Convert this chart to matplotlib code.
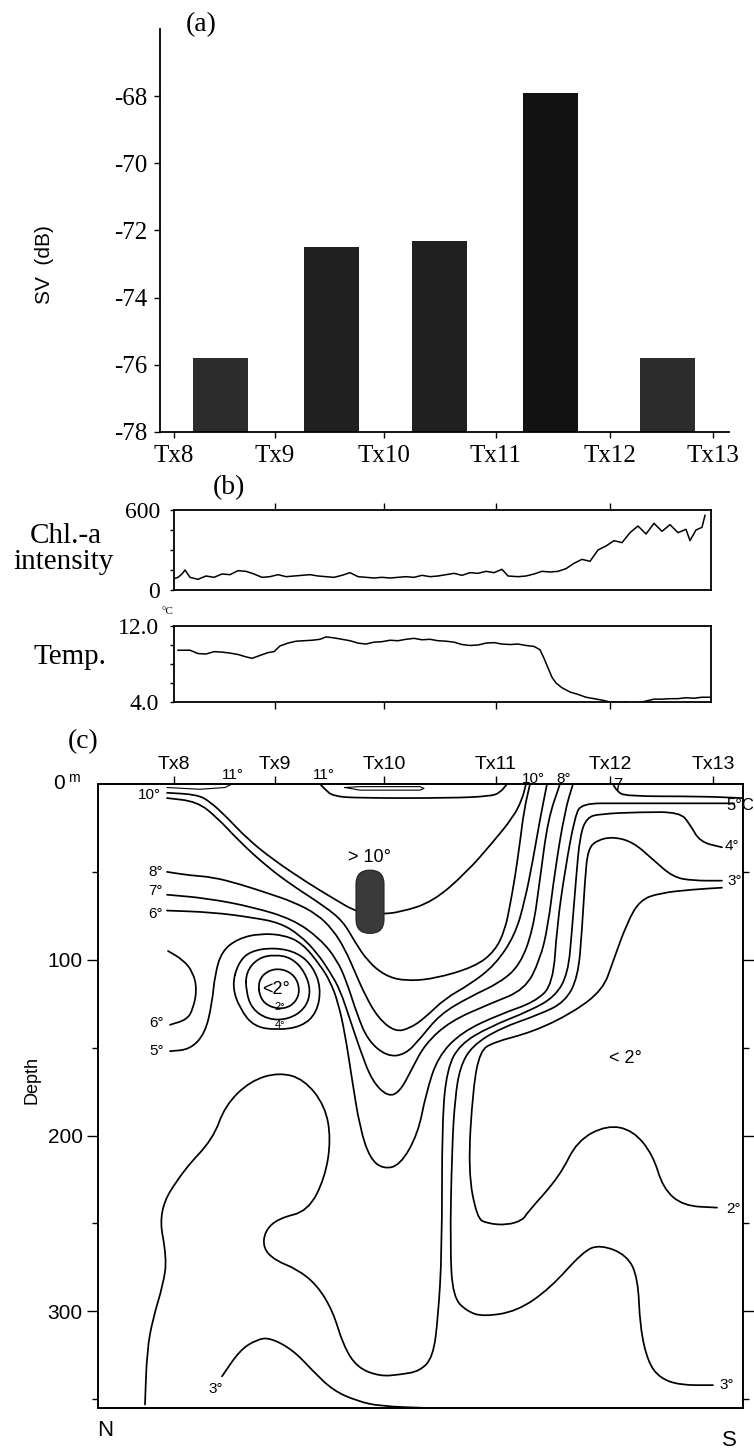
import matplotlib
matplotlib.use('Agg')
import matplotlib.pyplot as plt
from matplotlib.patches import FancyBboxPatch, PathPatch
from matplotlib.path import Path

SERIF = ['Liberation Serif', 'DejaVu Serif']
SANS = ['Liberation Sans', 'DejaVu Sans']
W, H = 754, 1450

# ---------------- shared ----------------
stations = ['Tx8', 'Tx9', 'Tx10', 'Tx11', 'Tx12', 'Tx13']
station_km = [0, 101, 210, 322, 436, 539]

# ---------------- (a) SV bars ----------------
bar_km = [46.5, 157.5, 265.5, 376, 493.5]
bar_sv = [-75.8, -72.5, -72.3, -67.9, -75.8]
sv_ticks = [-78, -76, -74, -72, -70, -68]

# ---------------- (b) along-track records ----------------
chl_km = [0, 4, 8, 11, 16, 24, 32, 40, 48, 56, 64, 72, 80, 88, 96, 104, 112, 120, 128,
          136, 144, 152, 160, 168, 176, 184, 192, 200, 208, 216, 224, 232, 240, 248, 256,
          264, 272, 280, 288, 296, 304, 312, 320, 328, 334, 344, 352, 360, 368, 376, 384,
          392, 400, 408, 416, 424, 432, 440, 448, 456, 464, 472, 480, 488, 496, 504, 512,
          516, 522, 528, 531]
chl_val = [85, 95, 120, 150, 95, 80, 105, 95, 120, 115, 145, 140, 120, 95, 100, 115, 100,
           105, 110, 115, 105, 100, 95, 110, 130, 100, 95, 90, 95, 90, 95, 100, 95, 110,
           100, 105, 115, 125, 110, 130, 125, 140, 130, 155, 105, 100, 105, 120, 140, 135,
           140, 160, 200, 230, 215, 300, 330, 370, 355, 430, 480, 420, 500, 440, 490, 430,
           455, 370, 450, 470, 560]
temp_km = [4, 16, 24, 32, 40, 48, 56, 64, 72, 78, 86, 94, 100, 106, 114, 122, 130, 138,
           146, 152, 160, 168, 176, 184, 192, 200, 208, 216, 224, 232, 240, 248, 256, 264,
           272, 280, 288, 296, 304, 312, 320, 328, 336, 344, 352, 360, 366, 370, 374, 378,
           382, 388, 396, 404, 412, 420, 428, 436, 444, 452, 460, 466, 472, 480, 488, 496,
           504, 512, 520, 528, 536]
temp_val = [9.45, 9.45, 9.1, 9.05, 9.3, 9.25, 9.15, 9.0, 8.75, 8.6, 8.9, 9.2, 9.3, 9.9,
            10.2, 10.4, 10.45, 10.5, 10.6, 10.85, 10.75, 10.6, 10.45, 10.2, 10.1, 10.3,
            10.35, 10.5, 10.45, 10.6, 10.7, 10.55, 10.6, 10.45, 10.4, 10.3, 10.05, 9.95,
            10.0, 10.2, 10.25, 10.1, 10.05, 10.1, 9.95, 9.85, 9.5, 8.6, 7.6, 6.6, 6.0, 5.5,
            5.05, 4.8, 4.5, 4.35, 4.2, 4.0, 3.9, 4.0, 3.85, 3.95, 4.1, 4.3, 4.3, 4.35, 4.35,
            4.45, 4.4, 4.5, 4.5]

# ---------------- (c) isotherms (distance, depth m) ----------------
iso10_km = [-7, 23, 36, 53, 73, 99, 133, 159, 183, 206, 226, 259, 293, 319, 339, 348, 352]
iso10_m = [5, 6, 10, 19, 31, 43, 56, 65, 73, 74, 73, 67, 50, 33, 19, 9, 0]

iso9_km = [-7, 23, 43, 66, 93, 119, 149, 169, 181, 194, 211, 230, 259, 301, 321, 331, 336,
           341, 346, 350, 356]
iso9_m = [8, 10, 19, 33, 47, 58, 69, 78, 90, 101, 109, 112, 111, 104, 95, 83, 69, 53, 33,
          15, 0]

iso8_km = [-7, 16, 39, 66, 93, 119, 143, 159, 171, 181, 191, 204, 221, 236, 251, 271, 296,
           321, 341, 351, 359, 366, 373]
iso8_m = [50, 52, 53, 57, 62, 67, 74, 83, 94, 107, 120, 133, 141, 139, 133, 122, 114, 103,
          86, 66, 43, 20, 0]

iso7_km = [-7, 33, 79, 119, 146, 163, 173, 183, 194, 213, 231, 246, 266, 296, 326, 346,
           359, 366, 374, 386]
iso7_m = [63, 65, 70, 77, 88, 100, 113, 131, 146, 155, 154, 145, 131, 121, 113, 103, 83,
          54, 20, 0]

iso6_km = [-7, 39, 79, 106, 126, 143, 156, 166, 176, 186, 198, 214, 226, 238, 251, 276,
           316, 351, 366, 374, 381, 391, 399]
iso6_m = [72, 73, 76, 79, 86, 96, 107, 117, 134, 151, 169, 178, 175, 162, 148, 135, 125,
          117, 100, 81, 49, 15, 0]

iso5_km = [-4, 16, 31, 38, 41, 48, 64, 86, 111, 129, 146, 156, 164, 171, 178, 186, 196,
           209, 226, 244, 252, 264, 288, 326, 361, 379, 383, 391, 401, 408, 446, 506, 560]
iso5_m = [152, 151, 142, 125, 108, 95, 88, 85, 86, 91, 103, 112, 124, 142, 168, 196, 213,
          219, 217, 199, 176, 155, 141, 131, 124, 114, 81, 49, 18, 11, 11, 11, 11]

iso6b_km = [-6, 9, 19, 23, 19, 13, -4]
iso6b_m = [95, 100, 107, 117, 128, 134, 137]

iso4_km = [-29, -27, -21, -11, -7, -16, 9, 39, 51, 76, 105, 130, 151, 157, 151, 134, 105,
           91, 89, 101, 123, 143, 159, 169, 183, 206, 226, 246, 259, 264, 268, 268, 273,
           286, 316, 356, 381, 394, 398, 402, 406, 413, 426, 466, 506, 516, 526, 548]
iso4_m = [353, 322, 304, 285, 270, 243, 220, 202, 183, 169, 164, 168, 183, 202, 224, 243,
          247, 254, 264, 271, 276, 285, 300, 319, 332, 337, 336, 334, 326, 304, 266, 192,
          162, 148, 138, 129, 121, 108, 83, 54, 29, 19, 17, 16, 16, 23, 33, 36]

iso3_km = [539, 506, 486, 474, 466, 464, 453, 426, 409, 376, 343, 309, 293, 279, 276, 278,
           281, 286, 298, 326, 366, 391, 404, 408, 411, 414, 423, 439, 459, 479, 499, 519,
           548]
iso3_m = [342, 342, 338, 329, 309, 281, 268, 262, 266, 287, 300, 303, 300, 292, 264, 207,
          179, 161, 149, 139, 131, 124, 110, 83, 54, 37, 32, 30, 33, 43, 53, 55, 55]

iso2_km = [548, 519, 486, 466, 453, 439, 429, 399, 359, 319, 306, 299, 294, 303, 313, 333,
           349, 353, 386, 403, 433, 459, 479, 489, 509, 543]
iso2_m = [59, 60, 62, 66, 79, 101, 117, 130, 141, 147, 152, 173, 220, 247, 250, 251, 248,
          244, 223, 203, 194, 197, 211, 230, 240, 241]

iso3b_km = [48, 66, 83, 96, 119, 139, 159, 183, 206, 254]
iso3b_m = [337, 322, 316, 315, 322, 334, 345, 351, 354, 355]

ring1_km = [64, 76, 101, 124, 139, 147, 143, 128, 103, 80, 66, 58, 64]
ring1_m = [102, 95, 93, 96, 104, 116, 130, 138, 140, 138, 128, 115, 102]
ring2_km = [72, 84, 101, 118, 131, 137, 131, 114, 94, 78, 72, 72]
ring2_m = [107, 99, 97, 99, 107, 118, 128, 134, 134, 128, 118, 107]
ring3_km = [84, 94, 108, 121, 126, 122, 111, 96, 86, 84]
ring3_m = [112, 106, 105, 109, 117, 124, 128, 127, 122, 112]

iso11a_km = [-7, 26, 51, 58]
iso11a_m = [2, 3, 2, 0]
iso11b_km = [146, 151, 159, 186, 276, 316, 326, 333]
iso11b_m = [0, 3, 7, 8, 8, 7, 5, 0]
lens_km = [171, 186, 246, 250, 246, 186, 171]
lens_m = [2, 3.5, 3.5, 2.5, 1.5, 1.5, 2]
iso7b_km = [439, 443, 451, 526, 568]
iso7b_m = [0, 4, 7, 7, 8]


def smooth_line(ax, xs, zs, lw=1.25, closed=False):
    """Draw a line through the read points as a smooth quadratic path."""
    pts = list(zip(xs, zs))
    if closed:
        if pts[0] == pts[-1]:
            pts = pts[:-1]
        n = len(pts)
        mids = [((pts[i][0] + pts[(i + 1) % n][0]) / 2,
                 (pts[i][1] + pts[(i + 1) % n][1]) / 2) for i in range(n)]
        verts = [mids[-1]]
        codes = [Path.MOVETO]
        for i in range(n):
            verts += [pts[i], mids[i]]
            codes += [Path.CURVE3, Path.CURVE3]
    else:
        n = len(pts)
        verts = [pts[0]]
        codes = [Path.MOVETO]
        if n > 2:
            verts.append(((pts[0][0] + pts[1][0]) / 2, (pts[0][1] + pts[1][1]) / 2))
            codes.append(Path.LINETO)
            for i in range(1, n - 1):
                m = ((pts[i][0] + pts[i + 1][0]) / 2, (pts[i][1] + pts[i + 1][1]) / 2)
                verts += [pts[i], m]
                codes += [Path.CURVE3, Path.CURVE3]
        verts.append(pts[-1])
        codes.append(Path.LINETO)
    ax.add_patch(PathPatch(Path(verts, codes), fill=False, lw=lw, edgecolor='k',
                           joinstyle='round', capstyle='round'))


# ============================================================
fig = plt.figure(figsize=(W / 100, H / 100), dpi=100)

# ---------------- panel (a) ----------------
ax_a = fig.add_axes([160 / W, 1 - 432 / H, 569 / W, 403 / H])
sv_floor = sv_ticks[0]
bar_colors = ['#2c2c2c', '#202020', '#202020', '#121212', '#2c2c2c']
ax_a.bar(bar_km, [v - sv_floor for v in bar_sv], bottom=sv_floor, width=55,
         color=bar_colors, edgecolor='none')
ax_a.set_xlim(-14, 555)
ax_a.set_ylim(-78, -66)
for s in ['top', 'right']:
    ax_a.spines[s].set_visible(False)
for s in ['left', 'bottom']:
    ax_a.spines[s].set_linewidth(1.3)
ax_a.set_yticks(sv_ticks)
ax_a.set_yticklabels([str(t) for t in sv_ticks])
ax_a.set_xticks(station_km)
ax_a.set_xticklabels(stations)
ax_a.tick_params(axis='both', direction='out', length=4, width=1, labelsize=18, pad=5)
for lbl in ax_a.get_xticklabels() + ax_a.get_yticklabels():
    lbl.set_family(SERIF)
fig.text(201 / W, 1 - 25 / H, '(a)', ha='center', va='center', fontsize=20, family=SERIF)
fig.text(45 / W, 1 - 265 / H, 'SV  (dB)', ha='center', va='center', rotation=90,
         fontsize=15, family=SANS)

# ---------------- panel (b) ----------------
ax_chl = fig.add_axes([174 / W, 1 - 590 / H, 537 / W, 80 / H])
ax_chl.plot(chl_km, chl_val, color='k', lw=1.1)
ax_chl.set_xlim(0, 537)
ax_chl.set_ylim(0, 600)
ax_chl.set_xticks(station_km[1:-1])
ax_chl.tick_params(axis='x', bottom=False, top=True, labelbottom=False, direction='out',
                   length=5, width=1)
ax_chl.set_yticks([0, 150, 300, 450, 600])
ax_chl.set_yticklabels(['0', '', '', '', '600'])
ax_chl.tick_params(axis='y', direction='out', length=3, width=1, labelsize=17, pad=7)

ax_t = fig.add_axes([174 / W, 1 - 702 / H, 537 / W, 76 / H])
ax_t.plot(temp_km, temp_val, color='k', lw=1.1)
ax_t.set_xlim(0, 537)
ax_t.set_ylim(4, 12)
ax_t.set_xticks(station_km[1:-1])
ax_t.tick_params(axis='x', bottom=True, top=False, labelbottom=False, direction='out',
                 length=5, width=1)
ax_t.set_yticks([4, 6, 8, 10, 12])
ax_t.set_yticklabels(['4.0', '', '', '', '12.0'])
ax_t.tick_params(axis='y', direction='out', length=3, width=1, labelsize=17, pad=8)
for ax in (ax_chl, ax_t):
    for s in ax.spines.values():
        s.set_linewidth(1.3)
    for lbl in ax.get_yticklabels():
        lbl.set_family(SERIF)

fig.text(229 / W, 1 - 488 / H, '(b)', ha='center', va='center', fontsize=20, family=SERIF)
fig.text(66 / W, 1 - 536 / H, 'Chl.-a', ha='center', va='center', fontsize=21, family=SERIF)
fig.text(64 / W, 1 - 562 / H, 'intensity', ha='center', va='center', fontsize=21,
         family=SERIF)
fig.text(70 / W, 1 - 657 / H, 'Temp.', ha='center', va='center', fontsize=21, family=SERIF)
fig.text(167 / W, 1 - 612 / H, '°C', ha='center', va='center', fontsize=8, family=SERIF)

# ---------------- panel (c) ----------------
ax_c = fig.add_axes([98 / W, 1 - 1408 / H, 645 / W, 624 / H])
ax_c.set_xlim(-76, 569)
ax_c.set_ylim(355, 0)

open_lines = [
    (iso10_km, iso10_m), (iso9_km, iso9_m), (iso8_km, iso8_m), (iso7_km, iso7_m),
    (iso6_km, iso6_m), (iso5_km, iso5_m), (iso6b_km, iso6b_m), (iso4_km, iso4_m),
    (iso3_km, iso3_m), (iso2_km, iso2_m), (iso3b_km, iso3b_m), (iso11b_km, iso11b_m),
    (iso7b_km, iso7b_m),
]
for xs, zs in open_lines:
    smooth_line(ax_c, xs, zs)
for xs, zs in [(ring1_km, ring1_m), (ring2_km, ring2_m), (ring3_km, ring3_m)]:
    smooth_line(ax_c, xs, zs, closed=True)
ax_c.plot(iso11a_km, iso11a_m, color='k', lw=0.8)
ax_c.plot(lens_km, lens_m, color='k', lw=0.8)

# SV maximum patch (> 10 deg water)
blob = FancyBboxPatch((182, 49), 28, 36, boxstyle='round,pad=0,rounding_size=14',
                      mutation_aspect=0.5666, facecolor='#3a3a3a', edgecolor='#222222',
                      lw=0.8, zorder=3)
ax_c.add_patch(blob)

ax_c.set_xticks(station_km)
ax_c.set_xticklabels(stations)
ax_c.xaxis.set_ticks_position('top')
ax_c.tick_params(axis='x', direction='out', length=6, width=1, labelsize=14, pad=2)
ax_c.set_yticks([100, 200, 300])
ax_c.set_yticklabels(['100', '200', '300'])
ax_c.set_yticks([50, 150, 250, 350], minor=True)
ax_c.tick_params(axis='y', which='major', direction='out', length=8, width=1,
                 labelsize=15, pad=3, right=True)
ax_c.tick_params(axis='y', which='minor', direction='out', length=4, width=1, right=True)
for lbl in ax_c.get_xticklabels() + ax_c.get_yticklabels():
    lbl.set_family(SANS)
for s in ax_c.spines.values():
    s.set_linewidth(1.4)

lab_kw = dict(ha='center', va='center', family=SANS, clip_on=False)
contour_labels = [
    (-25, 6, '10°', 11), (58.5, -5, '11°', 11), (149.5, -5, '11°', 11),
    (359.5, -3, '10°', 11), (389.5, -3, '8°', 11), (443.5, 1, '7', 12),
    (566, 12, '5°C', 12), (558, 35, '4°', 11), (561, 55, '3°', 11),
    (-18.5, 50, '8°', 11), (-18.5, 61, '7°', 11), (-18.5, 74, '6°', 11),
    (-17.5, 136, '6°', 11), (-17.5, 152, '5°', 11), (196, 42, '> 10°', 13),
    (102, 117, '<2°', 13), (106, 127, '2°', 8), (106, 137, '4°', 8),
    (451, 156, '< 2°', 13), (559.5, 242, '2°', 11), (41.5, 344, '3°', 11),
    (552.5, 342, '3°', 11),
]
for x, z, t, fs in contour_labels:
    ax_c.text(x, z, t, fontsize=fs, **lab_kw)

fig.text(83 / W, 1 - 742 / H, '(c)', ha='center', va='center', fontsize=20, family=SERIF)
fig.text(59 / W, 1 - 784 / H, '0', ha='center', va='center', fontsize=15, family=SANS)
fig.text(74 / W, 1 - 778 / H, 'm', ha='center', va='center', fontsize=10, family=SANS)
fig.text(32 / W, 1 - 1080 / H, 'Depth', ha='center', va='center', rotation=90,
         fontsize=13, family=SANS)
fig.text(105 / W, 1 - 1430 / H, 'N', ha='center', va='center', fontsize=16, family=SANS)
fig.text(729 / W, 1 - 1440 / H, 'S', ha='center', va='center', fontsize=16, family=SANS)

fig.savefig('out.png', dpi=100)
